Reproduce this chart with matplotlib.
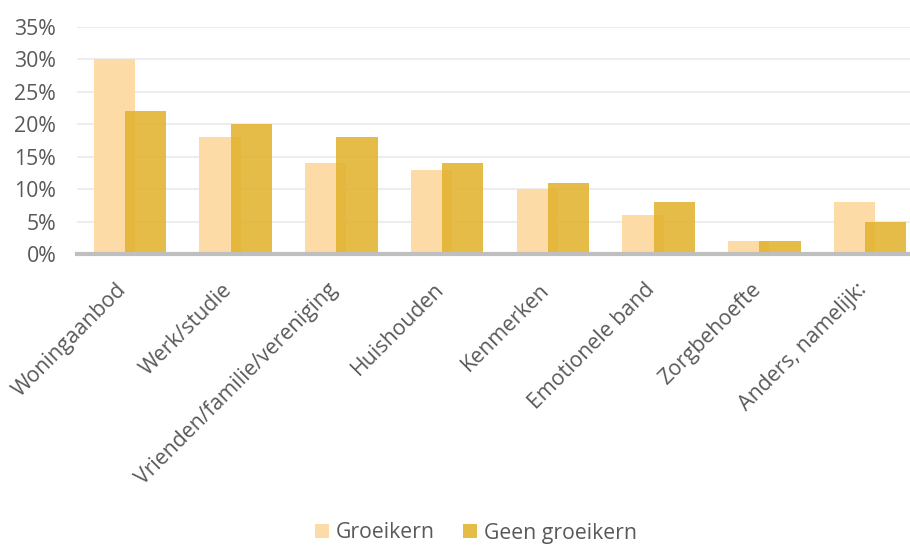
import matplotlib
matplotlib.use("Agg")
import matplotlib.pyplot as plt
from matplotlib.patches import Patch
import matplotlib.transforms as mtransforms
import numpy as np

categories = ["Woningaanbod", "Werk/studie", "Vrienden/familie/vereniging", "Huishouden",
              "Kenmerken", "Emotionele band", "Zorgbehoefte", "Anders, namelijk:"]
groeikern = [30, 18, 14, 13, 10, 6, 2, 8]
geen_groeikern = [22, 20, 18, 14, 11, 8, 2, 5]
yticks = [0, 5, 10, 15, 20, 25, 30, 35]

plt.rcParams['font.family'] = ['Open Sans', 'DejaVu Sans']
FS = 15.3

fig = plt.figure(figsize=(9.1, 5.45), dpi=100)
ax = fig.add_axes([77/910, 1-254/545, 1-77/910, (254-27)/545])

x = np.arange(len(categories))
w = 0.39
off = 0.147
light = "#FDDBA6"
dark = "#E3B22E"
ax.bar(x - off, groeikern, width=w, color=light, zorder=2)
ax.bar(x + off, geen_groeikern, width=w, color=dark, alpha=0.87, zorder=3)

ax.set_xlim(-0.5, 7.377)
ax.set_ylim(0, 35)
ax.set_yticks(yticks)
ax.set_yticklabels([f"{v}%" for v in yticks], fontsize=FS, color="#595959")
ax.tick_params(axis='y', length=0, pad=15)
ax.tick_params(axis='x', length=0, pad=8)
ax.set_xticks(x)
ax.set_xticklabels(categories, rotation=45, ha='right', rotation_mode='anchor',
                   fontsize=FS, color="#595959")
shift = mtransforms.ScaledTranslation(-14/100, -14/100, fig.dpi_scale_trans)
for lab in ax.get_xticklabels():
    lab.set_transform(lab.get_transform() + shift)
ax.yaxis.grid(True, color="#EDEDED", linewidth=1.5, zorder=0)
ax.set_axisbelow(True)
for s in ['top', 'right', 'left']:
    ax.spines[s].set_visible(False)
ax.spines['bottom'].set_color("#BFBFBF")
ax.spines['bottom'].set_linewidth(3)
ax.spines['bottom'].set_zorder(4)

handles = [Patch(facecolor=light, label="Groeikern"),
           Patch(facecolor=dark, alpha=0.87, label="Geen groeikern")]
fig.legend(handles=handles, loc='center', bbox_to_anchor=(0.523, 1-533/545), ncol=2,
           frameon=False, fontsize=FS, labelcolor="#595959", handlelength=0.65,
           handleheight=0.65, handletextpad=0.35, columnspacing=1.3)

fig.savefig("out.png", dpi=100)
